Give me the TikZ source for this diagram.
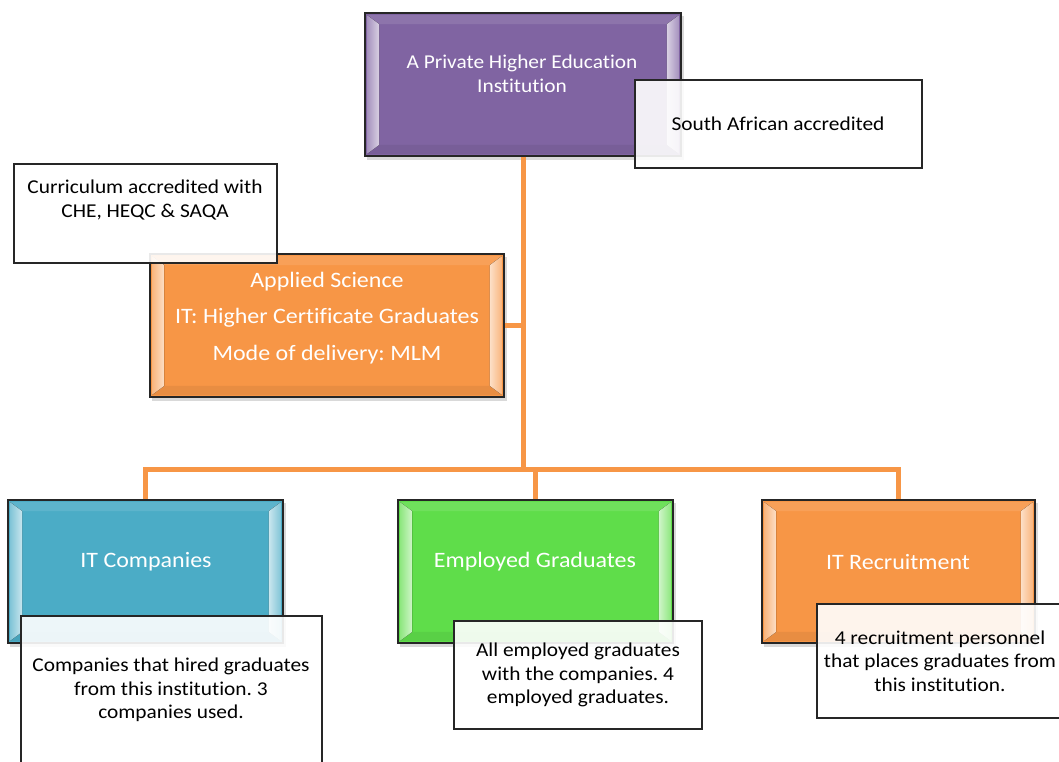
\documentclass[tikz,border=0pt]{standalone}
\usepackage{fontspec}
\setmainfont{Carlito}[FakeStretch=1.09, Ligatures=NoCommon]
\frenchspacing
\usetikzlibrary{fit,calc}
\definecolor{purp}{HTML}{8064A2}
\definecolor{orng}{HTML}{F79646}
\definecolor{teal}{HTML}{4BACC6}
\definecolor{grn}{HTML}{5FDD4A}
\definecolor{edge}{HTML}{262626}
\definecolor{conncol}{HTML}{F79646}
\tikzset{
  box/.style={draw=edge, line width=1.6pt, inner sep=0pt},
  note/.style={draw=edge, line width=1.6pt, inner sep=0pt, fill=white, fill opacity=0.9},
  conn/.style={draw=conncol, line width=5pt},
  wtext/.style={text=white, align=center, font=\fontsize{19.6}{24}\selectfont},
  btext/.style={text=black, align=center, font=\fontsize{19.6}{23.3}\selectfont},
  bigtext/.style={wtext, font=\fontsize{22}{26}\selectfont},
}
% coloured box with soft shadow and bevelled side strips
\newcommand\colbox[6]{%
  \fill[black, opacity=0.15] (#2+2,#3+3) rectangle (#4+3,#5+4);
  \node[box, fill=#6, fit={(#2,#3)(#4,#5)}] (#1) {};
  \fill[#6!90!white] ($(#1.north west)+(3,3)$) -- ($(#1.north east)+(-3,3)$)
     -- ($(#1.north east)+(-15,12)$) -- ($(#1.north west)+(15,12)$) -- cycle;
  \fill[#6!94!black] ($(#1.south west)+(3,-3)$) -- ($(#1.south east)+(-3,-3)$)
     -- ($(#1.south east)+(-15,-12)$) -- ($(#1.south west)+(15,-12)$) -- cycle;
  \fill[left color=#6!70!white, right color=#6!30!white]
     ($(#1.north west)+(3,3)$) -- ($(#1.north west)+(15,12)$)
     -- ($(#1.south west)+(15,-12)$) -- ($(#1.south west)+(3,-3)$) -- cycle;
  \fill[right color=#6!70!white, left color=#6!30!white]
     ($(#1.north east)+(-3,3)$) -- ($(#1.north east)+(-15,12)$)
     -- ($(#1.south east)+(-15,-12)$) -- ($(#1.south east)+(-3,-3)$) -- cycle;
}
\begin{document}
\begin{tikzpicture}[x=1pt, y=-1pt]
\useasboundingbox (0,0) rectangle (1059,762);
\clip (0,0) rectangle (1059,762);

% the level of the branches
\coordinate (busy) at (0,469);

% coloured boxes
\colbox{top}{365}{13}{681}{156}{purp}
\colbox{app}{150}{254}{504}{397}{orng}
\colbox{itc}{8}{500}{283}{643}{teal}
\colbox{emp}{398}{500}{673}{643}{grn}
\colbox{rec}{762}{500}{1035}{643}{orng}

% connectors
\draw[conn] (top.south) -- (top.south |- busy);
\draw[conn] (app.east) -- (app.east -| top.south);
\draw[conn] (itc.north) -- (itc.north |- busy) -- (rec.north |- busy) -- (rec.north);
\draw[conn] (emp.north) -- (emp.north |- busy);

% box captions
\node[wtext] (toptext) at (522,74) {A Private Higher Education\\Institution};
\node[wtext, font=\fontsize{22}{36.5}\selectfont] (apptext) at (327,318)
  {Applied Science\\IT: Higher Certificate Graduates\\Mode of delivery: MLM};
\node[bigtext] (itctext) at (146,562) {IT Companies};
\node[bigtext] (emptext) at (535,562) {Employed Graduates};
\node[bigtext] (rectext) at (898,562) {IT Recruitment};

% notes
\node[note, fit={(635,80)(922,168)}] (sa) {};
\node[btext] (satext) at (778,124) {South African accredited};
\node[note, fit={(14,164)(277,263)}] (cur) {};
\node[btext] (curtext) at (145,200) {Curriculum accredited with\\CHE, HEQC \& SAQA};
\node[note, fit={(21,616)(322,780)}] (itcnote) {};
\node[btext] (itcnotetext) at (171,690) {Companies that hired graduates\\from this institution. 3\\companies used.};
\node[note, fit={(454,621)(702,729)}] (empnote) {};
\node[btext] (empnotetext) at (578,675) {All employed graduates\\with the companies. 4\\employed graduates.};
\node[note, fit={(817,604)(1063,718)}] (recnote) {};
\node[btext] (recnotetext) at (940,661) {4 recruitment personnel\\that places graduates from\\this institution.};
\end{tikzpicture}
\end{document}
